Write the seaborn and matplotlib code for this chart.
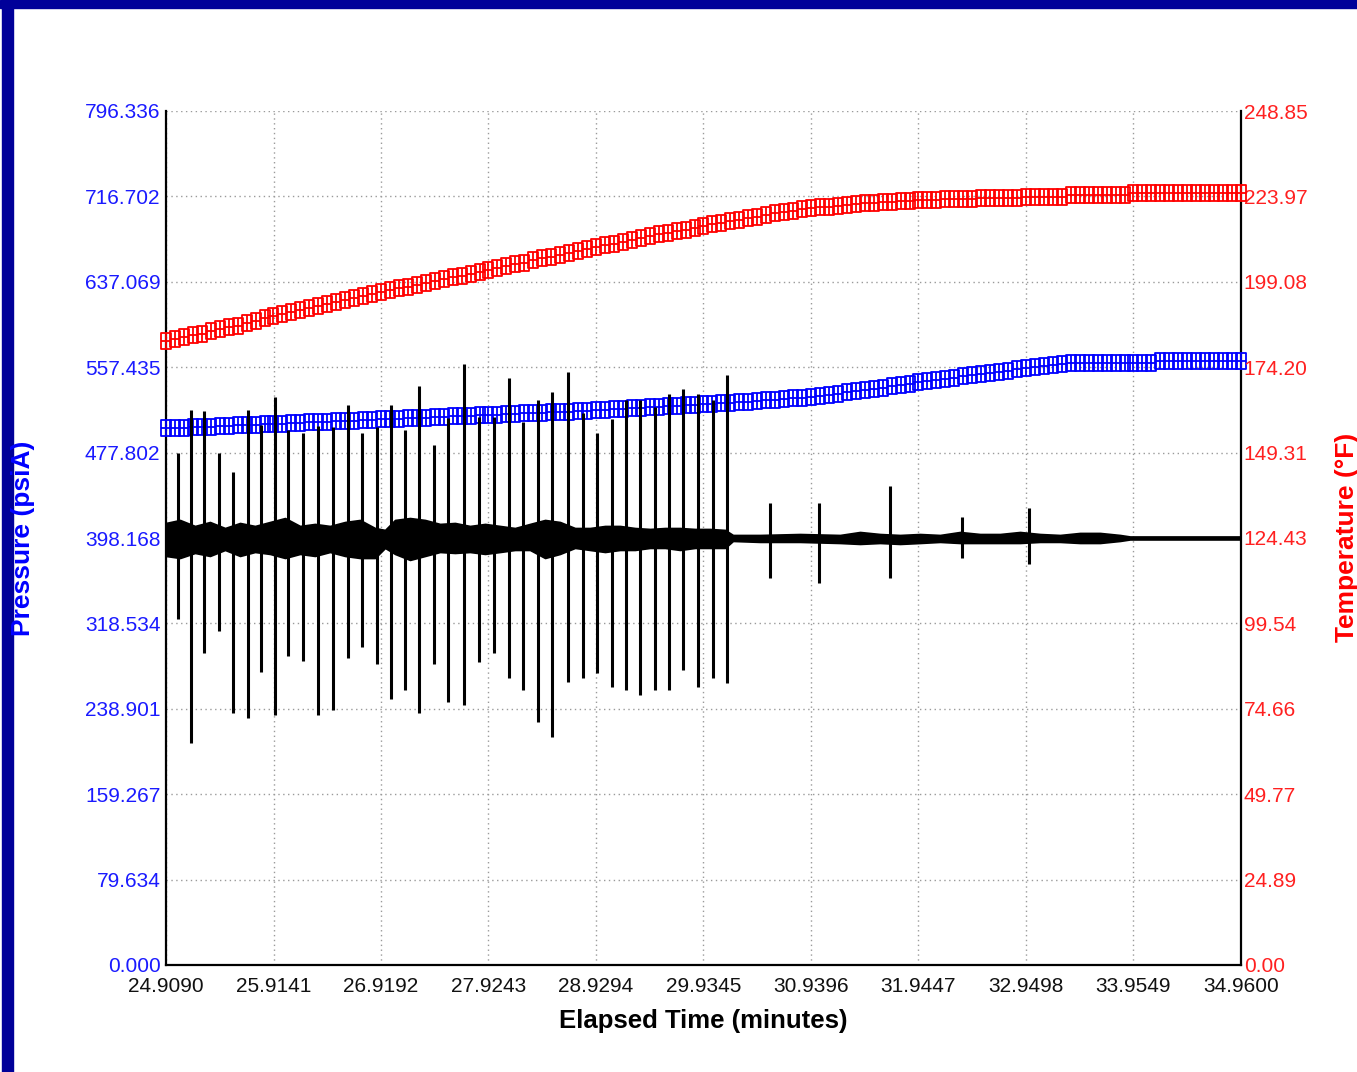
import numpy as np
import pandas as pd
import matplotlib
matplotlib.use("Agg")
import matplotlib.pyplot as plt
from matplotlib.path import Path
from matplotlib.patches import Rectangle
import seaborn as sns

# ---- axis ticks as printed on the chart ----
time_ticks = ['24.9090', '25.9141', '26.9192', '27.9243', '28.9294', '29.9345',
              '30.9396', '31.9447', '32.9498', '33.9549', '34.9600']
pres_ticks = ['0.000', '79.634', '159.267', '238.901', '318.534', '398.168',
              '477.802', '557.435', '637.069', '716.702', '796.336']
temp_ticks = ['0.00', '24.89', '49.77', '74.66', '99.54', '124.43',
              '149.31', '174.20', '199.08', '223.97', '248.85']

# ---- marker series (121 samples over the window) ----
sample_time = np.linspace(24.9090, 34.9600, 121)

temperature = [
    181.8, 182.4, 182.9, 183.5, 184.0, 184.6, 185.2, 185.8, 186.3, 187.0,
    187.7, 188.4, 189.1, 189.7, 190.2, 190.8, 191.4, 191.9, 192.5, 193.1,
    193.7, 194.3, 194.9, 195.5, 196.1, 196.6, 197.2, 197.7, 198.2, 198.8,
    199.3, 199.8, 200.4, 200.9, 201.4, 202.0, 202.5, 203.1, 203.6, 204.2,
    204.7, 205.3, 205.9, 206.4, 206.9, 207.5, 208.0, 208.6, 209.1, 209.7,
    210.2, 210.8, 211.3, 211.8, 212.4, 212.9, 213.4, 213.9, 214.3, 214.8,
    215.3, 215.8, 216.2, 216.7, 217.2, 217.7, 218.1, 218.6, 219.0, 219.4,
    219.8, 220.2, 220.6, 220.8, 221.0, 221.3, 221.5, 221.7, 222.0, 222.1,
    222.3, 222.4, 222.6, 222.7, 222.9, 222.9, 222.9, 223.2, 223.2, 223.2,
    223.2, 223.5, 223.5, 223.5, 223.5, 223.5, 223.8, 223.8, 223.8, 223.8,
    223.8, 224.3, 224.3, 224.3, 224.3, 224.3, 224.3, 224.3, 225.0, 225.0,
    225.0, 225.0, 225.0, 225.0, 225.0, 225.0, 225.0, 225.0, 225.0, 225.0,
    225.0,
]

pressure_sq = [
    500.3, 500.7, 501.0, 501.4, 501.7, 502.1, 502.4, 502.8, 503.1, 503.5,
    503.8, 504.2, 504.5, 504.9, 505.2, 505.6, 505.9, 506.3, 506.6, 507.0,
    507.3, 507.7, 508.0, 508.4, 508.7, 509.0, 509.4, 509.7, 510.1, 510.4,
    510.8, 511.1, 511.5, 511.8, 512.2, 512.5, 512.9, 513.2, 513.6, 513.9,
    514.3, 514.6, 515.0, 515.3, 515.7, 516.0, 516.4, 516.7, 517.1, 517.5,
    518.0, 518.5, 519.0, 519.5, 520.0, 520.5, 521.0, 521.5, 522.0, 522.5,
    523.0, 523.5, 523.9, 524.4, 524.8, 525.3, 525.8, 526.4, 527.0, 527.7,
    528.3, 529.0, 529.6, 530.7, 531.7, 532.8, 533.9, 535.0, 536.0, 537.2,
    538.5, 539.7, 540.9, 542.2, 543.4, 544.5, 545.6, 546.6, 547.7, 548.8,
    549.9, 550.9, 552.0, 553.1, 554.2, 555.3, 556.4, 557.5, 558.4, 559.4,
    560.4, 561.4, 561.8, 561.8, 561.8, 561.8, 561.8, 561.8, 561.8, 561.8,
    561.8, 562.8, 562.8, 562.8, 562.8, 562.8, 562.8, 562.8, 562.8, 562.8,
    562.8,
]

# ---- black pressure trace: periodic spikes ----
spike_time = [25.021, 25.143, 25.264, 25.405, 25.535, 25.676, 25.797, 25.928,
              26.050, 26.190, 26.330, 26.470, 26.611, 26.742, 26.882, 27.013,
              27.144, 27.275, 27.415, 27.546, 27.695, 27.836, 27.976, 28.116,
              28.247, 28.387, 28.518, 28.668, 28.808, 28.939, 29.079, 29.210,
              29.341, 29.481, 29.612, 29.743, 29.883, 30.023, 30.154,
              30.556, 31.014, 31.678, 32.351, 32.978]
spike_top = [477.4, 517.5, 516.6, 477.4, 459.7, 517.5, 503.5, 529.7,
             498.9, 496.1, 502.6, 501.7, 522.2, 496.1, 501.7, 522.2,
             498.9, 539.9, 484.9, 510.1, 560.4, 511.0, 511.0, 547.4,
             506.3, 526.9, 534.3, 553.0, 514.7, 496.1, 509.1, 526.9,
             526.9, 520.3, 532.4, 537.1, 532.4, 526.9, 550.2,
             430.8, 430.8, 446.7, 417.8, 426.1]
spike_bottom = [322.6, 207.0, 290.9, 311.5, 235.0, 230.3, 273.2, 233.1,
                288.1, 283.5, 233.1, 237.8, 286.3, 296.5, 280.7, 248.0,
                256.4, 235.0, 280.7, 245.2, 242.4, 282.5, 290.9, 267.6,
                256.4, 226.6, 212.6, 263.9, 267.6, 272.3, 259.2, 256.4,
                251.8, 256.4, 256.4, 275.1, 259.2, 267.6, 263.0,
                360.9, 356.2, 360.9, 379.5, 373.9]

# ---- black pressure trace: noise band envelope ----
band_time = [24.909, 25.040, 25.180, 25.320, 25.461, 25.601, 25.741, 25.881,
             26.022, 26.162, 26.302, 26.442, 26.583, 26.723, 26.863, 26.957,
             27.050, 27.190, 27.331, 27.471, 27.611, 27.751, 27.892, 28.032,
             28.172, 28.312, 28.453, 28.593, 28.733, 28.873, 29.014, 29.154,
             29.294, 29.434, 29.575, 29.715, 29.855, 29.995, 30.136, 30.210,
             30.463, 30.837, 31.211, 31.398, 31.585, 31.772, 31.959, 32.146,
             32.333, 32.520, 32.707, 32.894, 33.081, 33.268, 33.455, 33.642,
             33.829, 33.922, 34.960]
band_hi = [412.2, 415.0, 409.4, 413.1, 407.5, 412.2, 409.4, 413.1,
           416.8, 409.4, 411.3, 409.4, 413.1, 415.0, 407.5, 405.7,
           415.0, 416.8, 415.0, 411.3, 412.2, 409.4, 411.3, 409.4,
           407.5, 411.3, 415.0, 413.1, 407.5, 407.5, 409.4, 409.4,
           407.5, 406.6, 407.5, 407.5, 406.6, 406.6, 405.7, 401.0,
           401.0, 401.9, 401.0, 403.8, 401.9, 401.0, 401.9, 401.0,
           403.8, 401.9, 401.9, 403.8, 401.9, 401.0, 402.9, 402.9,
           401.0, 399.6, 399.6]
band_lo = [381.4, 379.5, 384.2, 381.4, 387.0, 381.4, 385.1, 383.3,
           379.5, 383.3, 381.4, 385.1, 381.4, 379.5, 379.5, 388.9,
           383.3, 377.7, 381.4, 385.1, 384.2, 385.1, 383.3, 385.1,
           387.0, 387.0, 379.5, 383.3, 388.9, 387.0, 385.1, 387.0,
           387.0, 388.9, 388.9, 387.0, 388.9, 388.9, 388.9, 395.4,
           394.5, 394.5, 393.5, 392.6, 393.5, 392.6, 393.5, 394.5,
           393.5, 393.5, 393.5, 393.5, 394.5, 394.5, 393.5, 393.5,
           395.4, 396.8, 396.8]

df = pd.DataFrame({'time': sample_time, 'temp': temperature, 'pres': pressure_sq})

sns.set_theme(style='white')
plt.rcParams['font.family'] = ['Liberation Sans', 'DejaVu Sans']

# boxed marker with cross lines (two stacked squares look)
box = Path([(-0.62, -1), (0.62, -1), (0.62, 1), (-0.62, 1), (-0.62, -1),
            (-0.62, 0), (0.62, 0), (0, -1), (0, 1)],
           [Path.MOVETO, Path.LINETO, Path.LINETO, Path.LINETO, Path.CLOSEPOLY,
            Path.MOVETO, Path.LINETO, Path.MOVETO, Path.LINETO])

fig = plt.figure(figsize=(13.57, 10.72), dpi=100)
ax = fig.add_axes([166 / 1357, 107 / 1072, 1075 / 1357, 854 / 1072])

# noise band + spikes
ax.fill_between(band_time, band_lo, band_hi, color='black', lw=1.2, edgecolor='black', zorder=3)
ax.vlines(spike_time, spike_bottom, spike_top, colors='black', linewidth=2.2, zorder=4)

sns.lineplot(data=df, x='time', y='pres', ax=ax, color='#0000FF', marker=box,
             markersize=11, markerfacecolor='none', markeredgecolor='#0000FF',
             markeredgewidth=1.3, linestyle='none', clip_on=False, zorder=3.5)

ax.set_xlim(24.9090, 34.9600)
ax.set_ylim(0, 796.336)
ax.set_xticks([float(v) for v in time_ticks])
ax.set_xticklabels(time_ticks)
ax.set_yticks([float(v) for v in pres_ticks])
ax.set_yticklabels(pres_ticks)
ax.set_xlabel('')
ax.set_ylabel('')
ax.grid(True, color='#9a9a9a', linestyle=(0, (1, 2.5)), linewidth=1)
ax.set_axisbelow(True)
ax.tick_params(axis='x', length=0, pad=9, labelsize=15, labelcolor='#111111')
ax.tick_params(axis='y', length=0, pad=4, labelsize=15, labelcolor='#1a1aff')
for side in ['left', 'bottom', 'right']:
    ax.spines[side].set_visible(True)
    ax.spines[side].set_color('black')
    ax.spines[side].set_linewidth(1.6)
ax.spines['top'].set_visible(False)

ax2 = ax.twinx()
sns.lineplot(data=df, x='time', y='temp', ax=ax2, color='#FF0000', marker=box,
             markersize=11, markerfacecolor='none', markeredgecolor='#FF0000',
             markeredgewidth=1.3, linestyle='none', clip_on=False)
ax2.set_ylim(0, 248.85)
ax2.set_yticks([float(v) for v in temp_ticks])
ax2.set_yticklabels(temp_ticks)
ax2.set_ylabel('')
ax2.grid(False)
ax2.tick_params(axis='y', length=0, pad=2, labelsize=15, labelcolor='#ff2020')
for side in ax2.spines:
    ax2.spines[side].set_visible(False)

# axis titles
fig.text(703.5 / 1357, 1 - 1021 / 1072, 'Elapsed Time (minutes)', ha='center',
         va='center', fontsize=18.5, fontweight='bold', color='black')
fig.text(23 / 1357, 1 - 538 / 1072, 'Pressure (psiA)', ha='center', va='center',
         rotation=90, fontsize=19, fontweight='bold', color='#0000FF')
fig.text(1347 / 1357, 1 - 537 / 1072, 'Temperature (°F)', ha='center', va='center',
         rotation=90, fontsize=19, fontweight='bold', color='#FF0000')

# navy frame
fig.patches.append(Rectangle((0, 1 - 8 / 1072), 1, 8 / 1072, transform=fig.transFigure,
                             color='#000099', zorder=0))
fig.patches.append(Rectangle((2 / 1357, 0), 11 / 1357, 1, transform=fig.transFigure,
                             color='#000099', zorder=0))

fig.savefig('out.png', dpi=100)
plt.close(fig)
